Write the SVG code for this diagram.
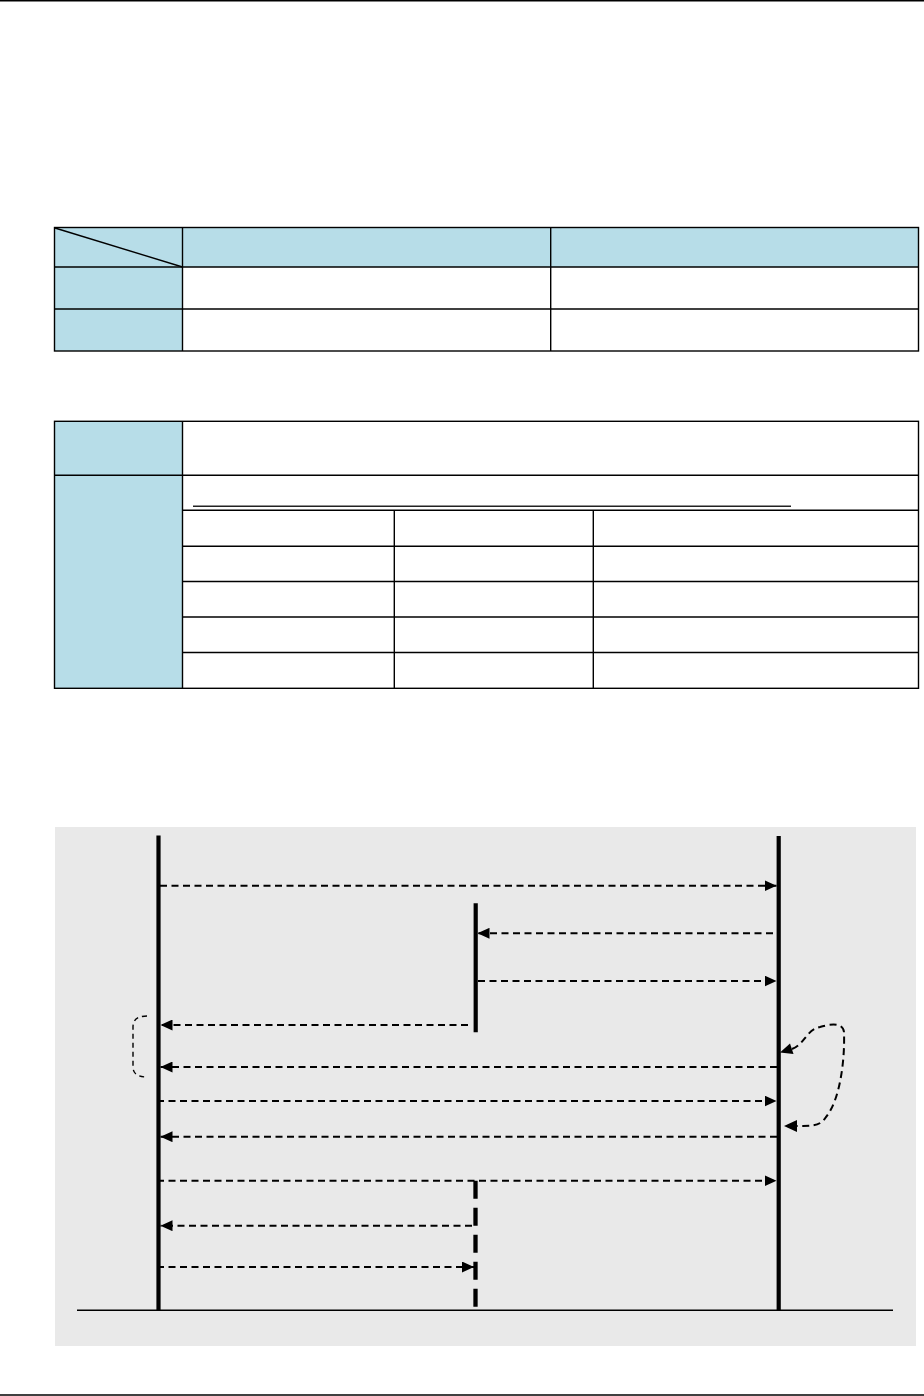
<svg xmlns="http://www.w3.org/2000/svg" width="924" height="1396" viewBox="0 0 924 1396">
  <style>
    .cell { fill: #B7DDE8; stroke: none; }
    .grid { stroke: #000; stroke-width: 1.4; fill: none; }
    .life { stroke: #000; stroke-width: 4.2; fill: none; }
    .msg { stroke: #000; stroke-width: 2; stroke-dasharray: 7 4.5; fill: none; }
    .thin { stroke: #000; stroke-width: 1.4; stroke-dasharray: 5 4; fill: none; }
  </style>
  <defs>
    <marker id="ah" viewBox="0 0 12 11" refX="12" refY="5.5" markerWidth="12" markerHeight="11" markerUnits="userSpaceOnUse" orient="auto">
      <path d="M0,0 L12,5.5 L0,11 z" fill="#000"/>
    </marker>
  </defs>
  <rect width="924" height="1396" fill="#fff"/>
  <g id="page-rules">
    <line x1="0" y1="0.7" x2="924" y2="0.7" stroke="#000" stroke-width="1.4"/>
    <line x1="0" y1="1395" x2="924" y2="1395" stroke="#000" stroke-width="1.4"/>
  </g>
  <g id="table1">
    <rect class="cell" x="54.5" y="227.5" width="864" height="39.5"/>
    <rect class="cell" x="54.5" y="267" width="128" height="84"/>
    <rect class="grid" x="54.5" y="227.5" width="864" height="123.5"/>
    <line class="grid" x1="54.5" y1="267" x2="918.5" y2="267"/>
    <line class="grid" x1="54.5" y1="309" x2="918.5" y2="309"/>
    <line class="grid" x1="182.5" y1="227.5" x2="182.5" y2="351"/>
    <line class="grid" x1="550.7" y1="227.5" x2="550.7" y2="351"/>
    <line class="grid" x1="55" y1="228" x2="182.5" y2="267"/>
  </g>
  <g id="table2">
    <rect class="cell" x="54.5" y="421.3" width="128" height="267"/>
    <rect class="grid" x="54.5" y="421.3" width="864" height="267"/>
    <line class="grid" x1="54.5" y1="475.3" x2="918.5" y2="475.3"/>
    <line class="grid" x1="182.5" y1="421.3" x2="182.5" y2="688.3"/>
    <line x1="193" y1="506.3" x2="791" y2="506.3" stroke="#222" stroke-width="1.6"/>
    <line class="grid" x1="182.5" y1="510.3" x2="918.5" y2="510.3"/>
    <line class="grid" x1="182.5" y1="546.3" x2="918.5" y2="546.3"/>
    <line class="grid" x1="182.5" y1="581.5" x2="918.5" y2="581.5"/>
    <line class="grid" x1="182.5" y1="617" x2="918.5" y2="617"/>
    <line class="grid" x1="182.5" y1="652.5" x2="918.5" y2="652.5"/>
    <line class="grid" x1="394.3" y1="510.3" x2="394.3" y2="688.3"/>
    <line class="grid" x1="593.3" y1="510.3" x2="593.3" y2="688.3"/>
  </g>
  <g id="sequence-bg">
    <rect x="55" y="827" width="861" height="519" fill="#E9E9E9"/>
    <line x1="77" y1="1310.3" x2="893" y2="1310.3" stroke="#000" stroke-width="1.6"/>
  </g>
  <g id="lifeline-left">
    <line class="life" x1="158.5" y1="835.5" x2="158.5" y2="1310"/>
  </g>
  <g id="lifeline-right">
    <line class="life" x1="778.7" y1="836" x2="778.7" y2="1310"/>
  </g>
  <g id="lifeline-middle">
    <line class="life" x1="475.7" y1="903.3" x2="475.7" y2="1032.3"/>
  </g>
  <g id="lifeline-middle-dashed">
    <line x1="475.5" y1="1180.7" x2="475.5" y2="1310" stroke="#000" stroke-width="4.3" stroke-dasharray="18 9"/>
  </g>
  <g id="connectors">
    <line class="msg" x1="160" y1="885.7" x2="776.5" y2="885.7" marker-end="url(#ah)"/>
    <line class="msg" x1="773" y1="933.3" x2="477.5" y2="933.3" marker-end="url(#ah)"/>
    <line class="msg" x1="478" y1="981" x2="776.5" y2="981" marker-end="url(#ah)"/>
    <line class="msg" x1="468" y1="1025" x2="160.5" y2="1025" marker-end="url(#ah)"/>
    <line class="msg" x1="777" y1="1067" x2="160.5" y2="1067" marker-end="url(#ah)"/>
    <line class="msg" x1="157" y1="1101" x2="776.5" y2="1101" marker-end="url(#ah)"/>
    <line class="msg" x1="777" y1="1136.7" x2="160.5" y2="1136.7" marker-end="url(#ah)"/>
    <line class="msg" x1="157" y1="1180.7" x2="776.5" y2="1180.7" marker-end="url(#ah)"/>
    <line class="msg" x1="472" y1="1225.7" x2="160.5" y2="1225.7" marker-end="url(#ah)"/>
    <line class="msg" x1="157" y1="1267" x2="474" y2="1267" marker-end="url(#ah)"/>
    <path class="thin" d="M147,1016 Q133,1016 133,1027 L133,1067 Q133,1077 147,1077"/>
    <path class="msg" d="M792,1049 C805,1044 806,1030 820,1027 C830,1024 843,1022 844,1032 C845,1060 840,1100 826,1117 C820,1127 810,1126 797,1126"/>
    <polygon points="780,1052.5 790,1043.5 793.5,1054" fill="#000"/>
    <polygon points="784,1126 797,1120 797,1132" fill="#000"/>
  </g>
</svg>
